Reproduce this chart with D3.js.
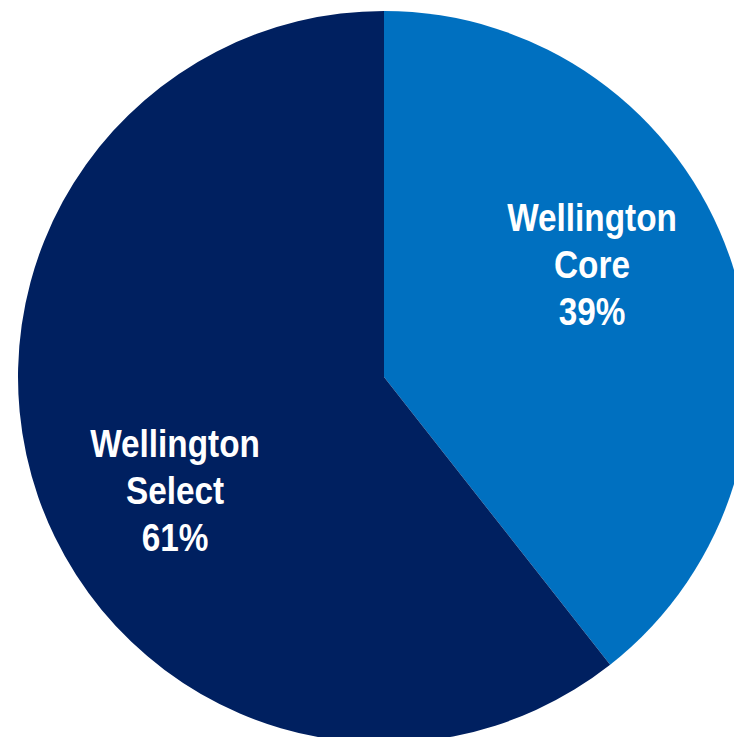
<!DOCTYPE html>
<html>
<head>
<meta charset="utf-8">
<script src="https://cdn.jsdelivr.net/npm/d3@7"></script>
<style>
html,body{margin:0;padding:0;background:#fff;overflow:hidden;}
svg{display:block;}
</style>
</head>
<body>
<svg id="chart" width="734" height="737"></svg>
<script>
const categories = ["Wellington Core", "Wellington Select"];
const labelLines = [["Wellington", "Core"], ["Wellington", "Select"]];
const values = [39.4, 60.6];
const colors = ["#0070C0", "#002060"];
const labelPos = [[592, 264], [175, 490]];

const svg = d3.select("#chart");
const cx = 384, cy = 377, r = 366;
const g = svg.append("g").attr("transform", `translate(${cx},${cy})`);

const data = categories.map((c, i) => ({ name: c, value: values[i], lines: labelLines[i], color: colors[i], pos: labelPos[i] }));
const pie = d3.pie().sort(null).value(d => d.value);
const arc = d3.arc().innerRadius(0).outerRadius(r);

g.selectAll("path").data(pie(data)).enter().append("path")
  .attr("d", arc)
  .attr("fill", d => d.data.color);

const total = d3.sum(values);
const fs = 39, lh = 47, sx = 0.855;
data.forEach(d => {
  const lines = d.lines.concat([Math.round(d.value / total * 100) + "%"]);
  const t = svg.append("g").attr("transform", `translate(${d.pos[0]},${d.pos[1]}) scale(${sx},1)`);
  lines.forEach((ln, j) => {
    t.append("text")
      .attr("x", 0)
      .attr("y", (j - 1) * lh)
      .attr("dy", "0.36em")
      .attr("text-anchor", "middle")
      .attr("fill", "#fff")
      .attr("font-family", "'Liberation Sans', Arial, sans-serif")
      .attr("font-weight", "bold")
      .attr("font-size", fs)
      .text(ln);
  });
});
</script>
</body>
</html>
